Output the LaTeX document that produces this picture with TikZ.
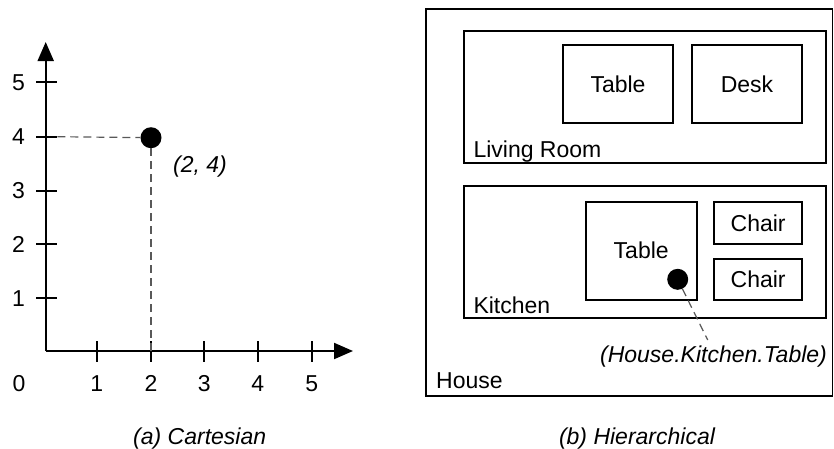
\documentclass[tikz,border=0pt]{standalone}
\usepackage{fontspec}
\setmainfont{Liberation Sans}
\usetikzlibrary{arrows.meta}

\tikzset{
  axis/.style={line width=2pt, -{Triangle[length=19pt,width=16pt]}},
  tick/.style={line width=1.8pt},
  guide/.style={line width=1.2pt, black!65, dash pattern=on 8pt off 5pt},
  dot/.style={circle, fill=black, inner sep=0pt, minimum size=21pt},
  box/.style={draw, line width=1.8pt, inner sep=0pt, font=\fontsize{23}{27}\selectfont},
  lbl/.style={inner sep=0pt, font=\fontsize{23}{27}\selectfont},
  ilbl/.style={lbl, font=\fontsize{23}{27}\selectfont\itshape},
}

\begin{document}
\begin{tikzpicture}[x=1pt, y=-1pt]
\useasboundingbox (0,0) rectangle (834,448);

% ---------- Cartesian coordinates ----------
\coordinate (O) at (45.7,351);
\coordinate (ytip) at (45.7,42);
\coordinate (xtip) at (353,351);
\draw[axis] (O) -- (ytip);
\draw[axis] (O) -- (xtip);

% y ticks and labels
\foreach \v/\yy in {1/298.3, 2/244.3, 3/190.7, 4/136.7, 5/82.3} {
  \coordinate (yt\v) at (57.3,\yy);
  \draw[tick] (36,\yy) -- (yt\v);
  \node[lbl] (ylab\v) at (18.5,\yy) {\v};
}
% x ticks and labels
\foreach \v/\xx in {1/96.7, 2/151, 3/204.3, 4/257.7, 5/311.7} {
  \coordinate (xt\v) at (\xx,351);
  \draw[tick] (\xx,341) -- (\xx,362);
  \node[lbl] (xlab\v) at (\xx,383.3) {\v};
}
\node[lbl] (xlab0) at (19,383.3) {0};

% the point (2,4)
\node[dot] (pt) at (151,137.7) {};
\draw[guide] (yt4) -- (pt);
\draw[guide] (pt) -- (xt2);
\node[ilbl, anchor=base] (ptlab) at (200,172.7) {(2, 4)};

\node[ilbl, anchor=base] (capa) at (199.7,444) {(a) Cartesian};

% ---------- Hierarchical containment ----------
\node[box, minimum width=406.8pt, minimum height=386.4pt] (house) at (629.1,202.5) {};
\node[lbl, anchor=base west] (houselab) at (436,388.3) {House};

\node[box, minimum width=361.7pt, minimum height=132.6pt] (living) at (644.85,97) {};
\node[lbl, anchor=base west] (livinglab) at (473.3,157.5) {Living Room};
\node[box, minimum width=110.6pt, minimum height=77.7pt] (ltable) at (618,83.85) {Table};
\node[box, minimum width=110.6pt, minimum height=77.7pt] (desk) at (747,83.85) {Desk};

\node[box, minimum width=361.7pt, minimum height=132.6pt] (kitchen) at (644.85,252) {};
\node[lbl, anchor=base west] (kitchenlab) at (473.3,313.3) {Kitchen};
\node[box, minimum width=111pt, minimum height=97.7pt] (ktable) at (641.2,251.15) {\raisebox{2pt}{Table}};
\node[box, minimum width=88.3pt, minimum height=42pt] (chair1) at (758.15,223.3) {Chair};
\node[box, minimum width=88.3pt, minimum height=41pt] (chair2) at (758.15,279.5) {Chair};

\node[dot] (kdot) at (677.7,279.3) {};
\coordinate (kend) at (707.7,340);
\draw[guide] (kdot) -- (kend);
\node[ilbl, anchor=base] (pathlab) at (713.5,362.5) {(House.Kitchen.Table)};

\node[ilbl, anchor=base] (capb) at (637,444) {(b) Hierarchical};
\end{tikzpicture}
\end{document}
